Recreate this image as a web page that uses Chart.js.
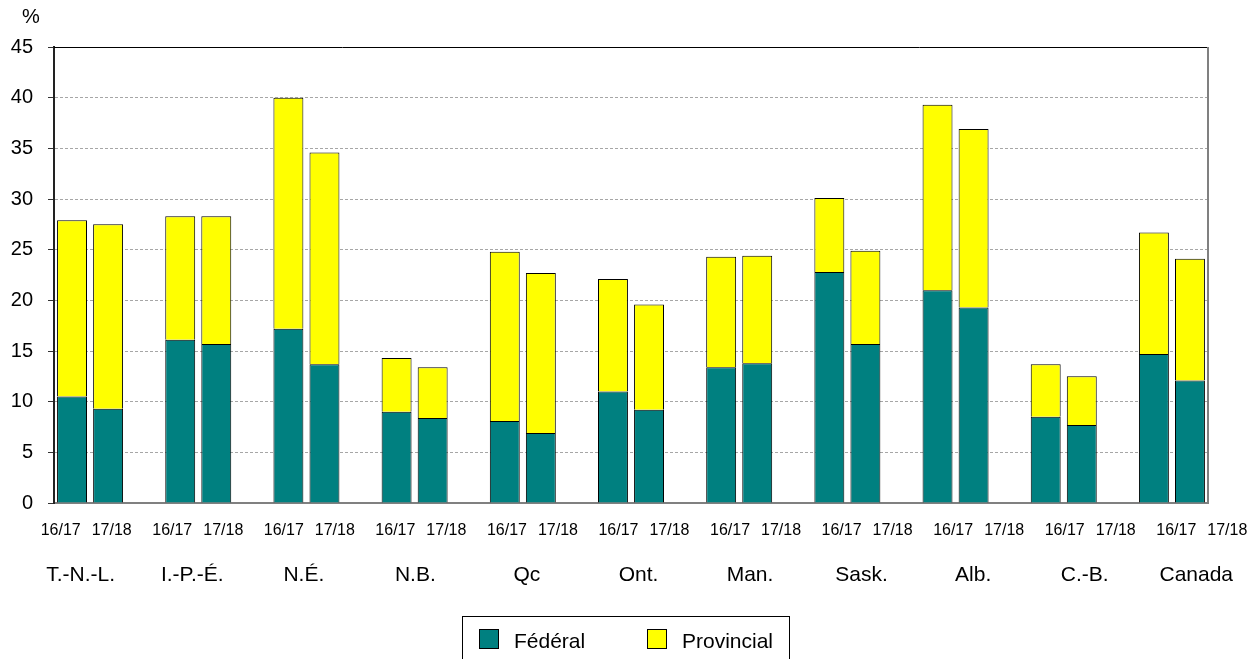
<!DOCTYPE html>
<html>
<head>
<meta charset="utf-8">
<script src="https://cdn.jsdelivr.net/npm/chart.js@4"></script>
<style>
  body { margin: 0; background: #fff; }
  canvas { display: block; }
</style>
</head>
<body>
<canvas id="barChart" width="1256" height="659"></canvas>
<script>
const provinces = ['T.-N.-L.', 'I.-P.-É.', 'N.É.', 'N.B.', 'Qc', 'Ont.', 'Man.', 'Sask.', 'Alb.', 'C.-B.', 'Canada'];
const years = ['16/17', '17/18'];

const federal1617 = [10.5, 16.1, 17.2, 9.0, 8.1, 11.0, 13.4, 22.8, 21.0, 8.5, 14.7];
const federal1718 = [9.3, 15.7, 13.7, 8.4, 6.9, 9.2, 13.8, 15.7, 19.3, 7.7, 12.1];
const provincial1617 = [17.4, 12.2, 22.8, 5.3, 16.7, 11.1, 10.9, 7.3, 18.3, 5.2, 12.0];
const provincial1718 = [18.2, 12.6, 20.9, 5.0, 15.8, 10.4, 10.6, 9.2, 17.6, 4.8, 12.0];

const yTicks = [0, 5, 10, 15, 20, 25, 30, 35, 40, 45];

const FONT = '"Liberation Sans", Arial, sans-serif';

// 3 slots per province (two years + an empty gap), no gap after the last one
const labels = [];
const federal = [];
const provincial = [];
provinces.forEach((p, i) => {
    labels.push([p, years[0]], [p, years[1]]);
    federal.push(federal1617[i], federal1718[i]);
    provincial.push(provincial1617[i], provincial1718[i]);
    if (i < provinces.length - 1) {
        labels.push('');
        federal.push(null);
        provincial.push(null);
    }
});

const extras = {
    id: 'extras',
    afterDraw(chart) {
        const { ctx, chartArea: a } = chart;
        const w = a.right - a.left;
        ctx.save();

        // frame: top black, right grey
        ctx.strokeStyle = '#000';
        ctx.lineWidth = 1;
        ctx.beginPath();
        ctx.moveTo(a.left, a.top + 0.5);
        ctx.lineTo(a.right, a.top + 0.5);
        ctx.stroke();
        ctx.strokeStyle = '#808080';
        ctx.lineWidth = 2;
        ctx.beginPath();
        ctx.moveTo(a.right, a.top);
        ctx.lineTo(a.right, a.bottom);
        ctx.stroke();

        // year + province labels under the axis
        ctx.fillStyle = '#000';
        ctx.textAlign = 'center';
        ctx.textBaseline = 'alphabetic';
        provinces.forEach((p, g) => {
            const x0 = a.left + w * (0.0058 + g * 0.09667);
            ctx.font = '16px ' + FONT;
            ctx.fillText(years[0], x0, a.bottom + 32);
            ctx.fillText(years[1], x0 + w * 0.0442, a.bottom + 32);
            ctx.font = '21px ' + FONT;
            ctx.fillText(p, x0 + 20, a.bottom + 78);
        });

        // % unit
        ctx.textAlign = 'left';
        ctx.font = '20px ' + FONT;
        ctx.fillText('%', 22, 23);

        // legend box
        const lx = chart.width / 2 - 166;
        const ly = 616;
        ctx.strokeStyle = '#000';
        ctx.lineWidth = 1;
        ctx.strokeRect(lx + 0.5, ly + 0.5, 327, 60);
        const items = chart.data.datasets;
        const offsets = [17, 185];
        items.forEach((ds, i) => {
            const bx = lx + offsets[i];
            ctx.fillStyle = ds.backgroundColor;
            ctx.fillRect(bx, ly + 13, 20, 20);
            ctx.strokeRect(bx + 0.5, ly + 13.5, 19, 19);
            ctx.fillStyle = '#000';
            ctx.font = '21px ' + FONT;
            ctx.fillText(ds.label, bx + 35, ly + 32);
        });

        ctx.restore();
    }
};

new Chart(document.querySelector('#barChart'), {
    type: 'bar',
    data: {
        labels: labels,
        datasets: [
            {
                label: 'Fédéral',
                data: federal,
                backgroundColor: '#008080',
                borderColor: '#000',
                borderWidth: 1
            },
            {
                label: 'Provincial',
                data: provincial,
                backgroundColor: '#ffff00',
                borderColor: '#000',
                borderWidth: 1
            }
        ]
    },
    options: {
        responsive: false,
        animation: false,
        layout: { padding: { top: 47, right: 48, left: 0, bottom: 0 } },
        datasets: {
            bar: { barPercentage: 0.83, categoryPercentage: 1 }
        },
        plugins: {
            legend: { display: false },
            tooltip: { enabled: false }
        },
        scales: {
            x: {
                stacked: true,
                ticks: { display: false },
                grid: { display: false },
                border: { display: true, color: '#808080', width: 2 },
                afterFit(scale) { scale.height = 156; }
            },
            y: {
                stacked: true,
                min: 0,
                max: 45,
                afterBuildTicks(scale) { scale.ticks = yTicks.map(v => ({ value: v })); },
                ticks: {
                    color: '#000',
                    font: { family: FONT, size: 20 },
                    padding: 15
                },
                grid: {
                    color: ctx => (ctx.tick && (ctx.tick.value === 45 || ctx.tick.value === 0)) ? 'rgba(0,0,0,0)' : '#a6a6a6',
                    tickColor: '#333',
                    tickBorderDash: [],
                    tickLength: 6
                },
                border: { display: true, color: '#222', width: 2, dash: [3, 2] },
                afterFit(scale) { scale.width = 54; }
            }
        }
    },
    plugins: [extras]
});
</script>
</body>
</html>
